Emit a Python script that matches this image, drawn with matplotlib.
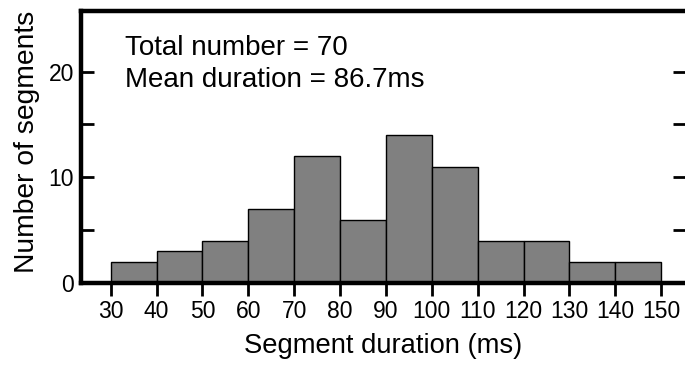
import matplotlib.pyplot as plt
import numpy as np

plt.rcParams['font.family'] = ['Liberation Sans', 'DejaVu Sans']

# histogram bins (ms) and counts
bin_edges = [30, 40, 50, 60, 70, 80, 90, 100, 110, 120, 130, 140, 150]
counts = [2, 3, 4, 7, 12, 6, 14, 11, 4, 4, 2, 2]
x_ticks = [30, 40, 50, 60, 70, 80, 90, 100, 110, 120, 130, 140, 150]
y_ticks = [0, 10, 20]
y_minor = [5, 15]
notes = ['Total number = 70', 'Mean duration = 86.7ms']

fig = plt.figure(figsize=(6.85, 3.66), dpi=100)
ax = fig.add_axes([0.118, 0.227, 0.882, 0.742])

edges = np.array(bin_edges)
ax.bar(edges[:-1], counts, width=np.diff(edges), align='edge',
       color='#808080', edgecolor='black', linewidth=1.0, zorder=2)

ax.set_xlim(23.5, 155.2)
ax.set_ylim(0, 25.7)

ax.set_xticks(x_ticks)
ax.set_yticks(y_ticks)
ax.set_yticks(y_minor, minor=True)

for side in ['left', 'top', 'bottom']:
    ax.spines[side].set_linewidth(3.2)
ax.spines['right'].set_visible(False)

ax.tick_params(axis='x', which='major', direction='out', length=9, width=2,
               labelsize=16.5, pad=3.5)
ax.tick_params(axis='y', which='both', direction='in', length=9, width=2,
               labelsize=16.5, pad=5, right=True)

ax.set_xlabel('Segment duration (ms)', fontsize=19.7)
ax.set_ylabel('Number of segments', fontsize=20.3)
ax.xaxis.set_label_coords(0.5, -0.185)
ax.yaxis.set_label_coords(-0.068, 0.52)

ax.text(0.073, 0.866, notes[0], transform=ax.transAxes, fontsize=20,
        va='center', ha='left')
ax.text(0.073, 0.748, notes[1], transform=ax.transAxes, fontsize=20,
        va='center', ha='left')

plt.savefig('out.png', dpi=100)
